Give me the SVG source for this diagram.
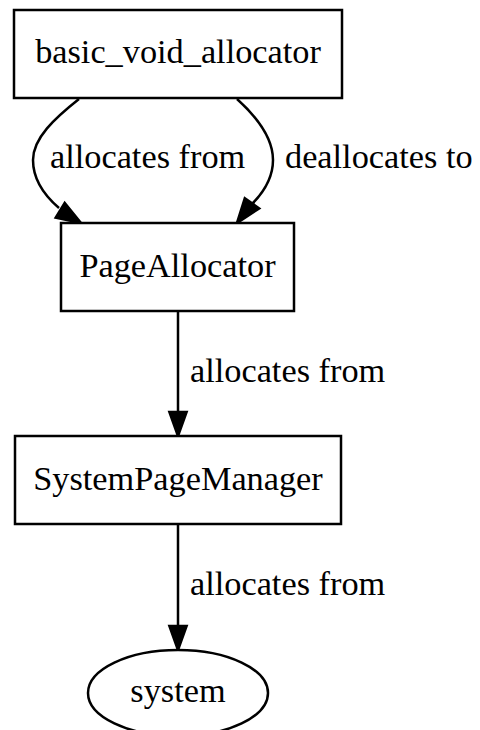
<svg xmlns="http://www.w3.org/2000/svg" width="480" height="730" viewBox="0 0 480 730">
  <style>
    .node { fill: #ffffff; stroke: #000000; stroke-width: 2.5; }
    .edge { fill: none; stroke: #000000; stroke-width: 2.5; }
    .head { fill: #000000; stroke: #000000; stroke-width: 2.5; }
    text { font-family: "Liberation Serif", "Times New Roman", serif; font-size: 34.3px; fill: #000000; }
    .label { text-anchor: middle; }
  </style>
  <rect width="480" height="730" fill="#ffffff"/>

  <g id="connectors">
    <!-- basic_void_allocator -> PageAllocator : allocates from -->
    <g id="e-alloc-page">
      <path class="edge" d="M79,99 C55,118 33,138 33,160 C33,180 45,196 59,208"/>
      <polygon class="head" points="81,223 55.7,217.6 64.7,203"/>
      <text x="50" y="168">allocates from</text>
    </g>
    <!-- basic_void_allocator -> PageAllocator : deallocates to -->
    <g id="e-dealloc-page">
      <path class="edge" d="M237,99 C258,118 273,138 273,160 C273,178 264,192 252,204"/>
      <polygon class="head" points="237,223 244.8,198.2 259.2,208.4"/>
      <text x="285" y="168">deallocates to</text>
    </g>
    <!-- PageAllocator -> SystemPageManager -->
    <g id="e-page-spm">
      <path class="edge" d="M178,312 L178,412"/>
      <polygon class="head" points="178,436 169.4,412 186.6,412"/>
      <text x="190" y="382">allocates from</text>
    </g>
    <!-- SystemPageManager -> system -->
    <g id="e-spm-system">
      <path class="edge" d="M178,524 L178,626"/>
      <polygon class="head" points="178,650 169.4,626 186.6,626"/>
      <text x="190" y="595">allocates from</text>
    </g>
  </g>

  <g id="basic_void_allocator">
    <rect class="node" x="14" y="10" width="328" height="88"/>
    <text class="label" x="178" y="63">basic_void_allocator</text>
  </g>
  <g id="PageAllocator">
    <rect class="node" x="61" y="223" width="233" height="88"/>
    <text class="label" x="177.5" y="277">PageAllocator</text>
  </g>
  <g id="SystemPageManager">
    <rect class="node" x="15" y="436" width="326" height="88"/>
    <text class="label" x="178" y="490">SystemPageManager</text>
  </g>
  <g id="system">
    <ellipse class="node" cx="178" cy="693" rx="90" ry="43"/>
    <text class="label" x="178" y="702">system</text>
  </g>
</svg>
